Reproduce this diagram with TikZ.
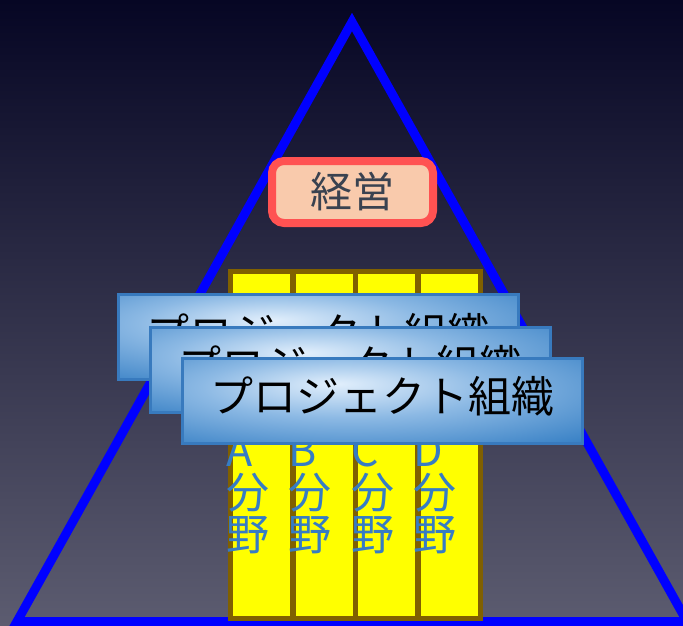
\documentclass[tikz,border=0pt]{standalone}
\usepackage{fontspec}
\setmainfont{Noto Sans CJK JP}
\usetikzlibrary{shapes.misc}
\definecolor{bgtop}{RGB}{6,6,36}
\definecolor{bgbot}{RGB}{92,92,112}
\definecolor{tri}{RGB}{0,0,255}
\definecolor{kred}{RGB}{255,82,82}
\definecolor{kfill}{RGB}{249,202,172}
\definecolor{ktext}{RGB}{58,66,80}
\definecolor{colbrown}{RGB}{128,96,0}
\definecolor{colyel}{RGB}{255,255,0}
\definecolor{coltext}{RGB}{54,124,196}
\definecolor{pl}{RGB}{226,239,252}
\definecolor{pm}{RGB}{140,185,228}
\definecolor{pd}{RGB}{58,130,198}
\definecolor{pborder}{RGB}{56,122,190}
\pgfdeclareradialshading{projshade}{\pgfpoint{-6bp}{10bp}}{color(0bp)=(pl); color(18bp)=(pm); color(40bp)=(pd); color(80bp)=(pd)}
\tikzset{
  keieibox/.style={draw=kred, line width=8pt, fill=kfill, rounded corners=12pt,
    minimum width=161pt, minimum height=62pt, inner sep=0pt, text=ktext,
    font=\fontsize{42}{46}\selectfont},
  colbox/.style={draw=colbrown, line width=5.5pt, fill=colyel, anchor=north west,
    minimum width=62.5pt, minimum height=347pt, inner sep=0pt},
  coltxt/.style={anchor=base west, inner sep=0pt, text=coltext,
    font=\fontsize{43}{46}\selectfont},
  projbox/.style={draw=pborder, line width=3pt, shading=projshade,
    minimum width=400pt, minimum height=85pt, inner sep=0pt, text=black,
    text depth=12pt, font=\fontsize{43}{46}\selectfont}
}
\begin{document}
\begin{tikzpicture}[x=1pt,y=-1pt]
\useasboundingbox (0,0) rectangle (683,626);
\shade[top color=bgtop, bottom color=bgbot] (0,0) rectangle (683,626);
% triangle
\draw[tri, line width=9pt, line join=miter] (352,22) -- (687,621.5) -- (17,621.5) -- cycle;
% management
\node[keieibox] (keiei) at (352.5,192) {経営};
% columns
\foreach \i/\L in {0/A,1/B,2/C,3/D}{
  \node[colbox] (col\L) at (227.5+62.5*\i,268.5) {};
}
\foreach \i/\L in {0/A,1/B,2/C,3/D}{
  \node[coltxt] (colt\L1) at (226+62.5*\i,466) {\L};
  \node[coltxt] (colt\L2) at (226+62.5*\i,508) {分};
  \node[coltxt] (colt\L3) at (226+62.5*\i,550) {野};
}
% project boxes
\node[projbox] (proj1) at (318.5,337) {プロジェクト組織};
\node[projbox] (proj2) at (350.5,369.5) {プロジェクト組織};
\node[projbox] (proj3) at (382.5,400.5) {プロジェクト組織};
\end{tikzpicture}
\end{document}
